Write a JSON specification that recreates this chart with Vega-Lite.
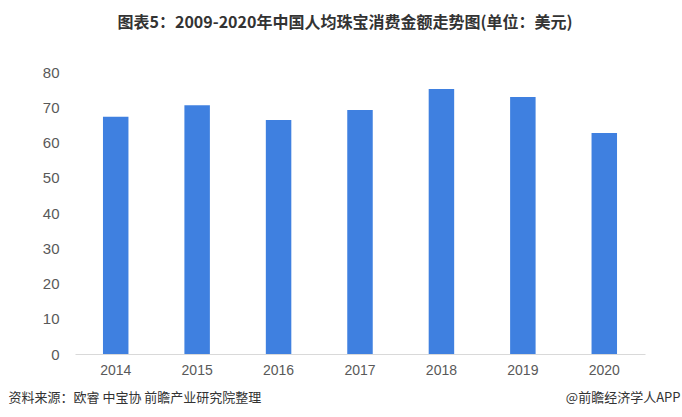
{
  "$schema": "https://vega.github.io/schema/vega-lite/v6.json",
  "width": 570,
  "height": 282,
  "autosize": "none",
  "padding": {"left": 75, "top": 72, "right": 37, "bottom": 63},
  "background": "white",
  "config": {"view": {"stroke": null}, "font": "Liberation Sans"},
  "title": {
    "text": "图表5：2009-2020年中国人均珠宝消费金额走势图(单位：美元)",
    "font": "Noto Sans CJK SC",
    "fontSize": 16,
    "fontWeight": "bold",
    "color": "#333333",
    "anchor": "middle",
    "dx": -15,
    "offset": 34
  },
  "data": {
    "values": [
      {"year": "2014", "value": 67.3},
      {"year": "2015", "value": 70.6},
      {"year": "2016", "value": 66.4},
      {"year": "2017", "value": 69.2},
      {"year": "2018", "value": 75.2},
      {"year": "2019", "value": 72.9},
      {"year": "2020", "value": 62.7}
    ]
  },
  "layer": [
    {
      "mark": {"type": "bar", "color": "#3F80E0"},
      "encoding": {
        "x": {
          "field": "year",
          "type": "nominal",
          "scale": {"paddingInner": 0.687, "paddingOuter": 0.3435},
          "axis": {
            "title": "资料来源：欧睿 中宝协 前瞻产业研究院整理",
            "titleFont": "Noto Sans CJK SC",
            "titleFontSize": 13,
            "titleFontWeight": "normal",
            "titleColor": "#333333",
            "titleAnchor": "start",
            "titleAlign": "left",
            "titleBaseline": "middle",
            "titleX": -67,
            "titleY": 43,
            "labelAngle": 0,
            "labelFontSize": 14,
            "labelColor": "#595959",
            "labelPadding": 9,
            "ticks": false,
            "domainColor": "#d9d9d9",
            "grid": false
          }
        },
        "y": {
          "field": "value",
          "type": "quantitative",
          "scale": {"domain": [0, 80]},
          "axis": {
            "title": null,
            "values": [0, 10, 20, 30, 40, 50, 60, 70, 80],
            "labelFontSize": 15,
            "labelColor": "#595959",
            "labelPadding": 16,
            "ticks": false,
            "domain": false,
            "grid": false
          }
        }
      }
    },
    {
      "mark": {"type": "bar", "opacity": 0},
      "encoding": {
        "x": {"field": "year", "type": "nominal"},
        "y": {
          "field": "value",
          "type": "quantitative",
          "axis": {
            "orient": "right",
            "title": "@前瞻经济学人APP",
            "titleFont": "Noto Sans CJK SC",
            "titleFontSize": 13,
            "titleFontWeight": "normal",
            "titleColor": "#333333",
            "titleAngle": 0,
            "titleAlign": "right",
            "titleBaseline": "middle",
            "titleX": 35,
            "titleY": 325,
            "labels": false,
            "ticks": false,
            "domain": false,
            "grid": false
          }
        }
      }
    }
  ],
  "resolve": {"axis": {"y": "independent"}}
}
